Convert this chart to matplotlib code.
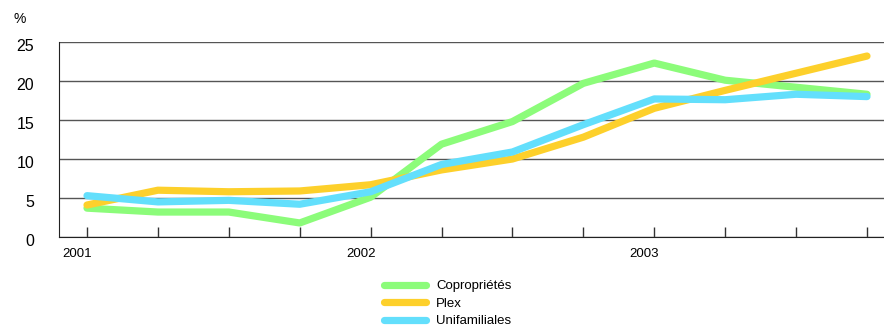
import matplotlib.pyplot as plt
import matplotlib.transforms as mtransforms

plt.rcParams['font.family'] = ['Liberation Sans', 'DejaVu Sans']

# trimestres 2001 T1 .. 2003 T4
trimestres = list(range(12))
annees = ["2001", "2002", "2003"]
pos_annees = [0, 4, 8]

coproprietes = [3.7, 3.2, 3.2, 1.8, 5.1, 11.9, 14.8, 19.7, 22.3, 20.1, 19.2, 18.3]
plex = [4.1, 6.0, 5.8, 5.9, 6.7, 8.6, 10.0, 12.8, 16.5, 18.8, 21.0, 23.2]
unifamiliales = [5.3, 4.5, 4.7, 4.2, 5.8, 9.3, 10.9, 14.4, 17.7, 17.6, 18.3, 18.0]

series = [
    ("Copropriétés", coproprietes, "#8cfc7a"),
    ("Plex", plex, "#fdd02b"),
    ("Unifamiliales", unifamiliales, "#63dffc"),
]

fig = plt.figure(figsize=(8.84, 3.27), dpi=100)
ax = fig.add_axes([59 / 884, 1 - 237 / 327, 1 - 59 / 884, (237 - 42) / 327])

for nom, valeurs, couleur in series:
    ax.plot(trimestres, valeurs, color=couleur, lw=5.2, label=nom,
            solid_capstyle="round", solid_joinstyle="round", zorder=3)

ax.set_xlim(-0.395, 11.24)
ax.set_ylim(0, 25)
ax.set_yticks([0, 5, 10, 15, 20, 25])
ax.yaxis.grid(True, color="#555555", lw=1.0)
ax.set_axisbelow(True)
ax.tick_params(axis="y", length=0, pad=18, labelsize=11.5)
baisse = mtransforms.ScaledTranslation(0, -3 / 100, fig.dpi_scale_trans)
for lab in ax.get_yticklabels():
    lab.set_transform(lab.get_transform() + baisse)

ax.set_xticks(trimestres)
ax.set_xticklabels([annees[pos_annees.index(t)] if t in pos_annees else "" for t in trimestres])
ax.tick_params(axis="x", direction="in", length=7, width=1, color="#333333",
               labelsize=9.5, pad=8)
decalage = mtransforms.ScaledTranslation(5 / 100, 0, fig.dpi_scale_trans)
for lab in ax.get_xticklabels():
    lab.set_horizontalalignment("right")
    lab.set_transform(lab.get_transform() + decalage)

for cote in ["top", "right"]:
    ax.spines[cote].set_visible(False)
ax.spines["left"].set_color("#222222")
ax.spines["bottom"].set_color("#222222")

fig.text(13 / 884, 1 - 19 / 327, "%", fontsize=10, va="center", ha="left")

fig.legend(loc="upper left", bbox_to_anchor=(384 / 884, 1 - 280 / 327),
           frameon=False, fontsize=9.5, handlelength=3.2, handletextpad=0.75,
           labelspacing=0.4, borderpad=0, borderaxespad=0)

fig.savefig("out.png", dpi=100)
